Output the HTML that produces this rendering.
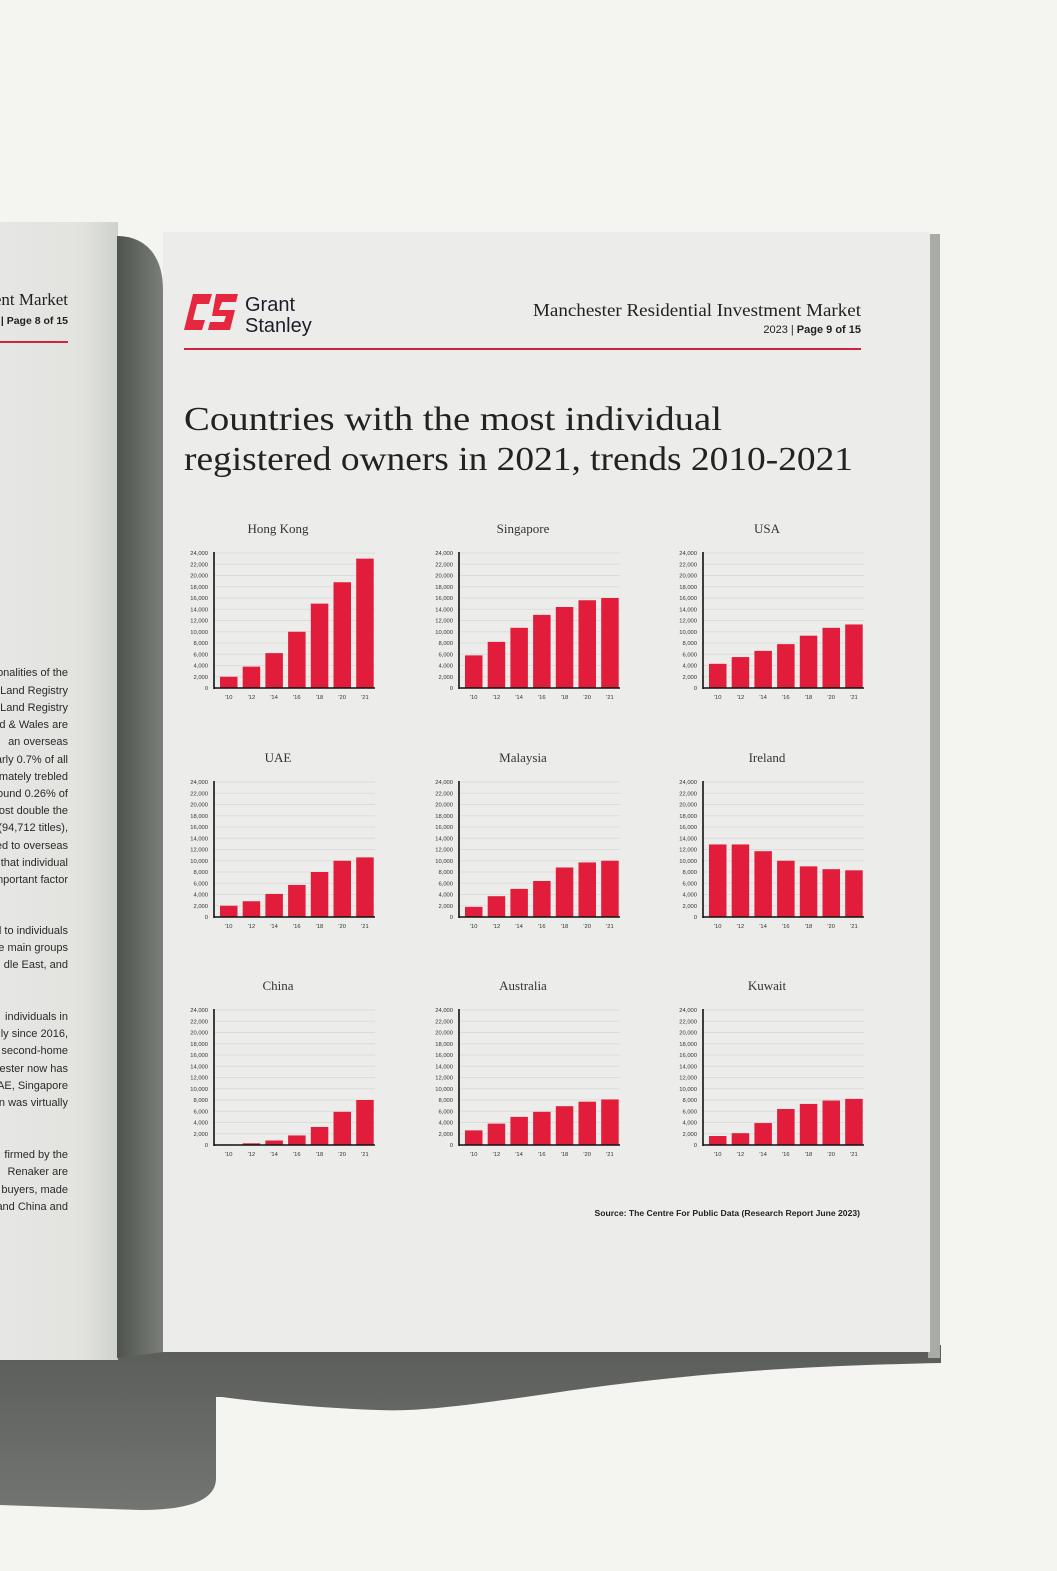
<!DOCTYPE html>
<html><head><meta charset="utf-8">
<style>
html,body{margin:0;padding:0;width:1057px;height:1571px;overflow:hidden;background:#f4f4f1;}
svg{display:block}
.ser{font-family:"Liberation Serif",serif}
.sans{font-family:"Liberation Sans",sans-serif}
</style></head>
<body>
<svg id="root" width="1057" height="1571" viewBox="0 0 1057 1571" xmlns="http://www.w3.org/2000/svg">
<defs>
<linearGradient id="curl" x1="0" x2="1" y1="0" y2="0">
<stop offset="0" stop-color="#4f534e"/><stop offset="0.5" stop-color="#656963"/><stop offset="1" stop-color="#7b7f79"/>
</linearGradient>
<linearGradient id="leftpg" x1="0" x2="1" y1="0" y2="0">
<stop offset="0" stop-color="#e6e7e4"/><stop offset="0.7" stop-color="#e2e3df"/><stop offset="1" stop-color="#cfd1cc"/>
</linearGradient>
<linearGradient id="shd" x1="0" x2="0" y1="0" y2="1">
<stop offset="0" stop-color="#5a5d59"/><stop offset="1" stop-color="#727571"/>
</linearGradient>
</defs>
<path d="M0,1352 L941,1345 L941,1363 C800,1366 700,1372 560,1392 C470,1405 420,1412 378,1410 C320,1408 260,1402 222,1397 L216,1397 L216,1478 C216,1500 190,1510 140,1510 L0,1505 Z" fill="url(#shd)"/>
<rect x="0" y="222" width="118" height="1138" fill="url(#leftpg)"/>
<path d="M117,236 C140,236 163,250 163,290 L163,1352 L117,1358 Z" fill="url(#curl)"/>
<rect x="928" y="234" width="12" height="1124" fill="#a9aba7"/>
<rect x="163" y="232" width="767" height="1120" fill="#ecedea"/>
<g id="left-text" class="sans" font-size="11" fill="#2a2a2a" text-anchor="end"></g>
<text class="ser" x="68" y="305" font-size="17" fill="#222" text-anchor="end">ent Market</text>
<text class="sans" x="68" y="324" font-size="10.5" font-weight="bold" fill="#222" text-anchor="end">| Page 8 of 15</text>
<rect x="0" y="341" width="68" height="2" fill="#d0243c"/>
<g>
<path d="M193,294 L212,294 L209,304 L197,304 L193,320 L205,320 L202,330 L184,330 Z" fill="#e5283f"/>
<path d="M216,294 L238,294 L236,302 L222,302 L219,310 L235,310 L230,330 L208,330 L210,322 L224,322 L226,316 L212,316 Z" fill="#e5283f"/>
<text class="sans" x="245" y="311" font-size="20" fill="#1d1d2b">Grant</text>
<text class="sans" x="245" y="332" font-size="20" fill="#1d1d2b">Stanley</text>
</g>
<text class="ser" x="533" y="316" font-size="17.5" fill="#222" textLength="328" lengthAdjust="spacingAndGlyphs">Manchester Residential Investment Market</text>
<text class="sans" x="861" y="333" font-size="11" fill="#222" text-anchor="end">2023 | <tspan font-weight="bold">Page 9 of 15</tspan></text>
<rect x="184" y="348" width="677" height="2" fill="#d0243c"/>
<text class="ser" font-size="33.5" fill="#222"><tspan x="184" y="430" textLength="538" lengthAdjust="spacingAndGlyphs">Countries with the most individual</tspan><tspan x="184" y="470" textLength="669" lengthAdjust="spacingAndGlyphs">registered owners in 2021, trends 2010-2021</tspan></text>
<g id="charts"></g>
<text class="sans" x="860" y="1216" font-size="8.6" fill="#222" text-anchor="end" font-weight="bold">Source: The Centre For Public Data (Research Report June 2023)</text>
</svg>
<script>
const countries = ["Hong Kong","Singapore","USA","UAE","Malaysia","Ireland","China","Australia","Kuwait"];
const years = ["'10","'12","'14","'16","'18","'20","'21"];
const yTicks = [0,2000,4000,6000,8000,10000,12000,14000,16000,18000,20000,22000,24000];
const hongKong = [2000,3800,6200,10000,15000,18800,23000];
const singapore = [5800,8200,10700,13000,14400,15600,16000];
const usa = [4300,5500,6600,7800,9300,10700,11300];
const uae = [2000,2800,4100,5700,8000,10000,10600];
const malaysia = [1800,3700,5000,6400,8800,9700,10000];
const ireland = [12900,12900,11700,10000,9000,8500,8300];
const china = [100,300,800,1700,3200,5900,8000];
const australia = [2600,3800,5000,5900,6900,7700,8100];
const kuwait = [1600,2100,3900,6400,7300,7900,8200];
const series = [hongKong,singapore,usa,uae,malaysia,ireland,china,australia,kuwait];

const NS="http://www.w3.org/2000/svg";
function mk(tag,attrs,parent){const e=document.createElementNS(NS,tag);for(const k in attrs)e.setAttribute(k,attrs[k]);parent.appendChild(e);return e;}
const root=document.getElementById('charts');
const colX=[214,459,703], rowZero=[688,917,1145], plotH=135, plotW=161, yMax=24000;
countries.forEach((c,i)=>{
  const ax=colX[i%3], zy=rowZero[Math.floor(i/3)];
  const y=v=>zy-v/yMax*plotH;
  const x=j=>ax+6+j*22.7;
  const g=mk('g',{},root);
  
  
  const t=mk('text',{x:ax+64,y:y(24000)-20,'font-size':13,'text-anchor':'middle',fill:'#333','class':'ser'},g);
  t.textContent=c;
  
  
  yTicks.forEach(v=>{
    if(v>0){const l=mk('line',{x1:ax,x2:ax+plotW,y1:y(v),y2:y(v),stroke:'#dcddda','stroke-width':1},g);
    
    }
    const tl=mk('text',{x:ax-6,y:y(v)+2,'font-size':5.8,'text-anchor':'end',fill:'#333','class':'sans'},g);
    tl.textContent=v.toLocaleString('en-US');
    
    
  });
  series[i].forEach((v,j)=>{
    const b=mk('rect',{x:x(j),y:y(v),width:17.5,height:zy-y(v),fill:'#e11d3b'},g);
    
    
    const xl=mk('text',{x:x(j)+8.7,y:zy+11,'font-size':5.8,'text-anchor':'middle',fill:'#333','class':'sans'},g);
    xl.textContent=years[j];
    
    
  });
  const ya=mk('line',{x1:ax,x2:ax,y1:y(24000)-1,y2:zy+1,stroke:'#111','stroke-width':1.6},g);
  
  
  const xa=mk('line',{x1:ax,x2:ax+plotW,y1:zy,y2:zy,stroke:'#111','stroke-width':1.6},g);
  
  
});
const leftLines=[[672,"onalities of the"],[690,"Land Registry"],[707,"Land Registry"],[724,"nd & Wales are"],[741,"an overseas"],[759,"arly 0.7% of all"],[776,"mately trebled"],[793,"round 0.26% of"],[810,"ost double the"],[827,"(94,712 titles),"],[845,"red to overseas"],[862,"that individual"],[879,"mportant factor"],[930,"d to individuals"],[947,"ne main groups"],[964,"dle East, and"],[1016,"individuals in"],[1033,"ly since 2016,"],[1050,"second-home"],[1068,"hester now has"],[1085,"AE, Singapore"],[1102,"n was virtually"],[1154,"firmed by the"],[1171,"Renaker are"],[1189,"buyers, made"],[1206,"and China and"]];
const lt=document.getElementById('left-text');
leftLines.forEach(([yy,s])=>{
  const e=mk('text',{x:68,y:yy+4},lt);
  e.textContent=s;
  
  
});
</script>
</body></html>
